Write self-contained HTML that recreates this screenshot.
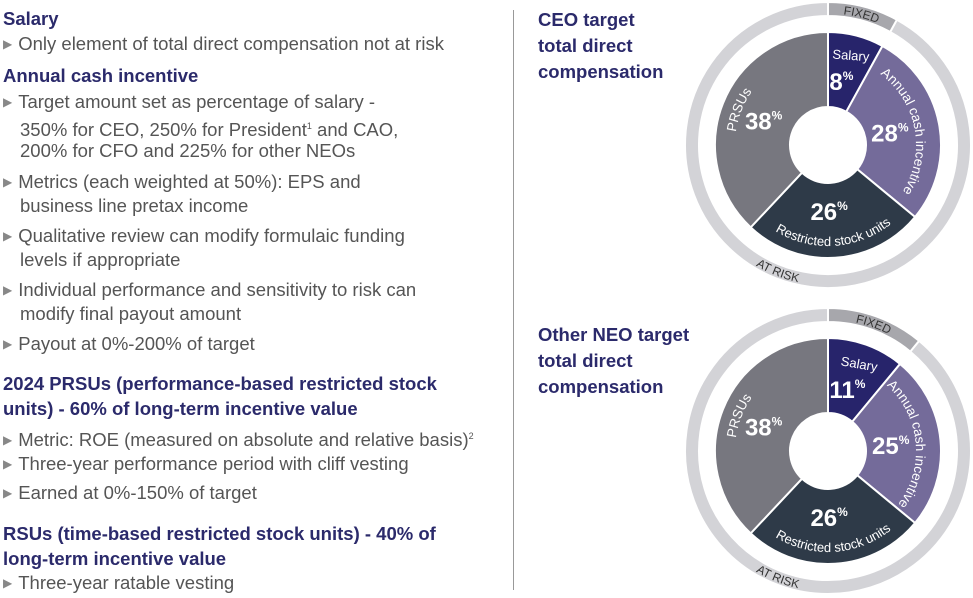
<!DOCTYPE html>
<html><head><meta charset="utf-8"><style>
body{margin:0;width:973px;height:598px;background:#fff;position:relative;overflow:hidden;font-family:"Liberation Sans",sans-serif}
.l{position:absolute;left:3px;white-space:nowrap;font-size:18.5px;line-height:20px}
.h{font-weight:bold;color:#2b2a6b;font-size:18.5px}
.b{color:#555;left:3px}
.b .t{font-size:12px;color:#888;margin-right:6px;position:relative;top:-2px}
.i{left:20px;color:#555}
sup{font-size:9px}
.cap{position:absolute;left:538px;font-weight:bold;color:#2b2a6b;font-size:18.5px;line-height:26px}
</style></head><body>
<div>
<div class="l h" style="top:9px">Salary</div>
<div class="l b" style="top:34px"><span class="t">▶</span>Only element of total direct compensation not at risk</div>
<div class="l h" style="top:66px">Annual cash incentive</div>
<div class="l b" style="top:92px"><span class="t">▶</span>Target amount set as percentage of salary -</div>
<div class="l i" style="top:116px">350% for CEO, 250% for President<sup>1</sup> and CAO,</div>
<div class="l i" style="top:141px">200% for CFO and 225% for other NEOs</div>
<div class="l b" style="top:172px"><span class="t">▶</span>Metrics (each weighted at 50%): EPS and</div>
<div class="l i" style="top:196px">business line pretax income</div>
<div class="l b" style="top:226px"><span class="t">▶</span>Qualitative review can modify formulaic funding</div>
<div class="l i" style="top:250px">levels if appropriate</div>
<div class="l b" style="top:280px"><span class="t">▶</span>Individual performance and sensitivity to risk can</div>
<div class="l i" style="top:304px">modify final payout amount</div>
<div class="l b" style="top:334px"><span class="t">▶</span>Payout at 0%-200% of target</div>
<div class="l h" style="top:374px">2024 PRSUs (performance-based restricted stock</div>
<div class="l h" style="top:399px">units) - 60% of long-term incentive value</div>
<div class="l b" style="top:426px"><span class="t">▶</span>Metric: ROE (measured on absolute and relative basis)<sup>2</sup></div>
<div class="l b" style="top:454px"><span class="t">▶</span>Three-year performance period with cliff vesting</div>
<div class="l b" style="top:483px"><span class="t">▶</span>Earned at 0%-150% of target</div>
<div class="l h" style="top:524px">RSUs (time-based restricted stock units) - 40% of</div>
<div class="l h" style="top:549px">long-term incentive value</div>
<div class="l b" style="top:573px"><span class="t">▶</span>Three-year ratable vesting</div>
</div>
<div style="position:absolute;left:513px;top:10px;width:1px;height:580px;background:#999"></div>
<div class="cap" style="top:7px">CEO target<br>total direct<br>compensation</div>
<div class="cap" style="top:322px">Other NEO target<br>total direct<br>compensation</div>
<svg id="s" width="973" height="598" style="position:absolute;left:0;top:0"></svg>
<script>
const categories=["Salary","Annual cash incentive","Restricted stock units","PRSUs"];
const ceoValues=[8,28,26,38];
const neoValues=[11,25,26,38];
const colors=["#27246b","#746b9a","#2e3a48","#77777f"];
const NS="http://www.w3.org/2000/svg";
const svg=document.getElementById('s');
function mk(t,a,p){const e=document.createElementNS(NS,t);for(const k in a)e.setAttribute(k,a[k]);(p||svg).appendChild(e);return e;}
function pt(cx,cy,r,f){const a=f*2*Math.PI;return [cx+r*Math.sin(a),cy-r*Math.cos(a)];}
function arcPath(cx,cy,r,f0,f1,ccw){const p0=pt(cx,cy,r,ccw?f1:f0),p1=pt(cx,cy,r,ccw?f0:f1);const lg=(f1-f0)>0.5?1:0;return `M${p0[0]} ${p0[1]} A${r} ${r} 0 ${lg} ${ccw?0:1} ${p1[0]} ${p1[1]}`;}
function sector(cx,cy,r0,r1,f0,f1){const a=pt(cx,cy,r1,f0),b=pt(cx,cy,r1,f1),c=pt(cx,cy,r0,f1),d=pt(cx,cy,r0,f0);const lg=(f1-f0)>0.5?1:0;return `M${a[0]} ${a[1]} A${r1} ${r1} 0 ${lg} 1 ${b[0]} ${b[1]} L${c[0]} ${c[1]} A${r0} ${r0} 0 ${lg} 0 ${d[0]} ${d[1]}Z`;}
let uid=0;
function arcText(g,cx,cy,r,f0,f1,ccw,txt,size,fill,name){
  const id='ap'+(uid++);mk('path',{id:id,d:arcPath(cx,cy,r,f0,f1,ccw),fill:'none'},g);
  const t=mk('text',{'font-size':size,fill:fill,'font-family':'Liberation Sans, sans-serif','text-anchor':'middle'},g);
  
  
  const tp=mk('textPath',{href:'#'+id,startOffset:'50%'},t);tp.textContent=txt;
}
function donut(cx,cy,vals,key){
  const g=mk('g',{});
  
  
  const tot=vals.reduce((a,b)=>a+b,0);
  const fixedEnd=vals[0]/tot;
  const r1=mk('path',{d:sector(cx,cy,129,143,fixedEnd,1),fill:'#d3d3d7',stroke:'#fff','stroke-width':2},g);
  
  
  const r2=mk('path',{d:sector(cx,cy,129,143,0,fixedEnd),fill:'#a7a7ac',stroke:'#fff','stroke-width':2},g);
  
  
  arcText(g,cx,cy,131.5,0,fixedEnd,false,'FIXED',12,'#333','fixed-label');
  arcText(g,cx,cy,140.5,0.5,0.62,true,'AT RISK',12,'#333','at-risk-label');
  let c=0;
  vals.forEach((v,i)=>{
    const f0=c/tot,f1=(c+v)/tot;c+=v;
    const p=mk('path',{d:sector(cx,cy,38,113,f0,f1),fill:colors[i],stroke:'#fff','stroke-width':2},g);
    
    
    const m=(f0+f1)/2;
    const lp=pt(cx,cy,66,m);
    const t=mk('text',{x:lp[0]-3,y:lp[1]+9,'font-size':24,'font-weight':'bold',fill:'#fff','text-anchor':'middle','font-family':'Liberation Sans, sans-serif'},g);
    
    
    t.textContent=v;const sp=mk('tspan',{'font-size':12,dy:-10},t);sp.textContent='%';
    const name='category-label';
    if(i===2) arcText(g,cx,cy,101,f0+0.02,f1-0.02,true,categories[i],13,'#fff',name);
    else if(i===0){
      const sp2=pt(cx,cy,92,m);
      const rot=m*360-10;
      const st=mk('text',{x:sp2[0],y:sp2[1]+4,'font-size':13,fill:'#fff','text-anchor':'middle','font-family':'Liberation Sans, sans-serif',transform:`rotate(${rot} ${sp2[0]} ${sp2[1]})`},g);
      
      
      st.textContent=categories[i];
    }
    else arcText(g,cx,cy,i===3?93:88,f0+0.01,f1-0.01,false,categories[i],13.5,'#fff',name);
  });
}
donut(828,145,ceoValues,'ceo');
donut(828,451,neoValues,'neo');
</script>
</body></html>
